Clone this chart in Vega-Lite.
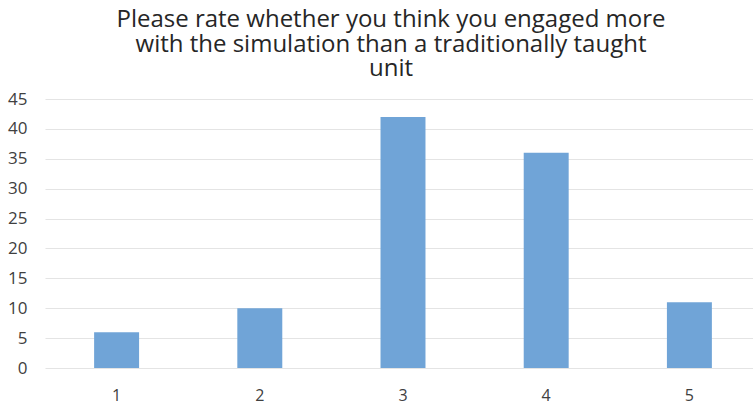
{
  "$schema": "https://vega.github.io/schema/vega-lite/v6.json",
  "width": 708,
  "height": 269,
  "autosize": {"type": "none"},
  "padding": {"left": 45, "top": 99, "right": 0, "bottom": 36},
  "background": "white",
  "title": {
    "text": ["Please rate whether you think you engaged more", "with the simulation than a traditionally taught", "unit"],
    "anchor": "middle",
    "frame": "group",
    "dx": -8,
    "offset": -10,
    "baseline": "alphabetic",
    "font": "Open Sans",
    "fontSize": 24,
    "fontWeight": "normal",
    "color": "#262626",
    "lineHeight": 24.5
  },
  "data": {
    "values": [
      {"rating": "1", "count": 6},
      {"rating": "2", "count": 10},
      {"rating": "3", "count": 42},
      {"rating": "4", "count": 36},
      {"rating": "5", "count": 11}
    ]
  },
  "mark": {"type": "bar", "color": "#70A4D7"},
  "encoding": {
    "x": {
      "field": "rating",
      "type": "ordinal",
      "scale": {"range": [0, 716], "paddingInner": 0.686, "paddingOuter": 0.343},
      "axis": {
        "title": null,
        "labelAngle": 0,
        "domain": false,
        "ticks": false,
        "labelPadding": 19,
        "labelFont": "Open Sans",
        "labelFontSize": 16,
        "labelColor": "#404040"
      }
    },
    "y": {
      "field": "count",
      "type": "quantitative",
      "scale": {"domain": [0, 45]},
      "axis": {
        "title": null,
        "values": [0, 5, 10, 15, 20, 25, 30, 35, 40, 45],
        "domain": false,
        "ticks": false,
        "labelPadding": 18,
        "labelFont": "Open Sans",
        "labelFontSize": 17,
        "labelColor": "#404040",
        "gridColor": "#E4E4E4",
        "gridWidth": 1.2
      }
    }
  },
  "config": {"view": {"stroke": null}}
}
